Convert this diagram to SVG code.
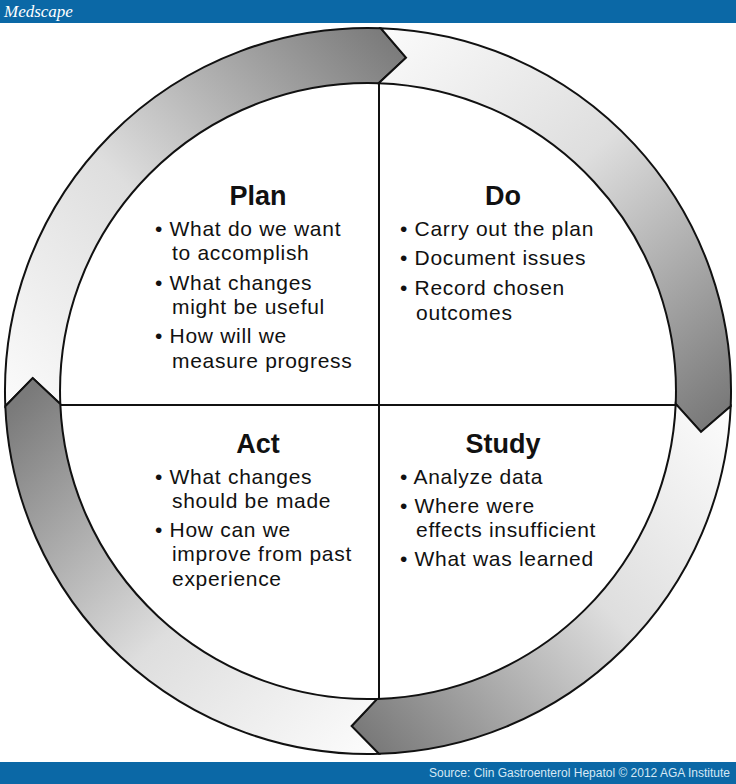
<svg xmlns="http://www.w3.org/2000/svg" width="736" height="784" viewBox="0 0 736 784">
<style>
.seg{stroke:#111;stroke-width:2;stroke-linejoin:miter}
.div{stroke:#111;stroke-width:2}
.t{font-family:"Liberation Sans",Arial,sans-serif;font-size:27px;font-weight:bold;fill:#111;text-anchor:middle}
.b{font-family:"Liberation Sans",Arial,sans-serif;font-size:21px;letter-spacing:0.7px;fill:#111}
</style>
<defs>
<linearGradient id="gA" gradientUnits="userSpaceOnUse" x1="20" y1="420" x2="400" y2="45"><stop offset="0" stop-color="#fbfbfb"/><stop offset="0.45" stop-color="#dedede"/><stop offset="1" stop-color="#7a7a7a"/></linearGradient>
<linearGradient id="gB" gradientUnits="userSpaceOnUse" x1="380" y1="30" x2="710" y2="420"><stop offset="0" stop-color="#fbfbfb"/><stop offset="0.45" stop-color="#dedede"/><stop offset="1" stop-color="#7a7a7a"/></linearGradient>
<linearGradient id="gC" gradientUnits="userSpaceOnUse" x1="720" y1="410" x2="360" y2="730"><stop offset="0" stop-color="#fbfbfb"/><stop offset="0.45" stop-color="#dedede"/><stop offset="1" stop-color="#7a7a7a"/></linearGradient>
<linearGradient id="gD" gradientUnits="userSpaceOnUse" x1="370" y1="745" x2="30" y2="390"><stop offset="0" stop-color="#fbfbfb"/><stop offset="0.45" stop-color="#dedede"/><stop offset="1" stop-color="#7a7a7a"/></linearGradient>
</defs>
<rect width="736" height="784" fill="#fff"/>
<rect x="0" y="0" width="736" height="23" fill="#0b68a6"/>
<text x="4" y="17" font-family="Liberation Serif,serif" font-size="17" font-style="italic" fill="#fff">Medscape</text>
<rect x="0" y="762" width="736" height="22" fill="#0b68a6"/>
<text x="730" y="777" font-family="Liberation Sans,Arial,sans-serif" font-size="12" fill="#d6e8f5" text-anchor="end">Source: Clin Gastroenterol Hepatol © 2012 AGA Institute</text>
<g id="connectors">
<path id="arrow-plan" class="seg" fill="url(#gA)" d="M 5.3 406.2 A 363 363 0 0 1 380.7 28.2 L 406 57.7 L 378.7 83.2 A 308 308 0 0 0 60.3 403.9 L 32.7 378.1 Z"/>
<path id="arrow-do" class="seg" fill="url(#gB)" d="M 380.7 28.2 A 363 363 0 0 1 730.7 406.2 L 701 431.9 L 675.7 403.9 A 308 308 0 0 0 378.7 83.2 L 406 57.7 Z"/>
<path id="arrow-study" class="seg" fill="url(#gC)" d="M 730.7 406.2 A 363 363 0 0 1 378.8 753.8 L 351.6 726.1 L 377.1 698.9 A 308 308 0 0 0 675.7 403.9 L 701 431.9 Z"/>
<path id="arrow-act" class="seg" fill="url(#gD)" d="M 378.8 753.8 A 363 363 0 0 1 5.3 406.2 L 32.7 378.1 L 60.3 403.9 A 308 308 0 0 0 377.1 698.9 L 351.6 726.1 Z"/>
<line class="div" x1="379" y1="83" x2="379" y2="699"/>
<line class="div" x1="60" y1="405" x2="676" y2="405"/>
</g>
<g id="plan">
<text class="t" x="258" y="205">Plan</text>
<text class="b" x="155" y="236">• What do we want</text>
<text class="b" x="172" y="260">to accomplish</text>
<text class="b" x="155" y="290">• What changes</text>
<text class="b" x="172" y="314">might be useful</text>
<text class="b" x="155" y="343">• How will we</text>
<text class="b" x="172" y="368">measure progress</text>
</g>
<g id="do">
<text class="t" x="503" y="205">Do</text>
<text class="b" x="400" y="236">• Carry out the plan</text>
<text class="b" x="400" y="265">• Document issues</text>
<text class="b" x="400" y="295">• Record chosen</text>
<text class="b" x="416" y="320">outcomes</text>
</g>
<g id="act">
<text class="t" x="258" y="453">Act</text>
<text class="b" x="155" y="484">• What changes</text>
<text class="b" x="172" y="508">should be made</text>
<text class="b" x="155" y="537">• How can we</text>
<text class="b" x="172" y="561">improve from past</text>
<text class="b" x="172" y="586">experience</text>
</g>
<g id="study">
<text class="t" x="503" y="453">Study</text>
<text class="b" x="400" y="484">• Analyze data</text>
<text class="b" x="400" y="513">• Where were</text>
<text class="b" x="416" y="537">effects insufficient</text>
<text class="b" x="400" y="566">• What was learned</text>
</g>
</svg>
